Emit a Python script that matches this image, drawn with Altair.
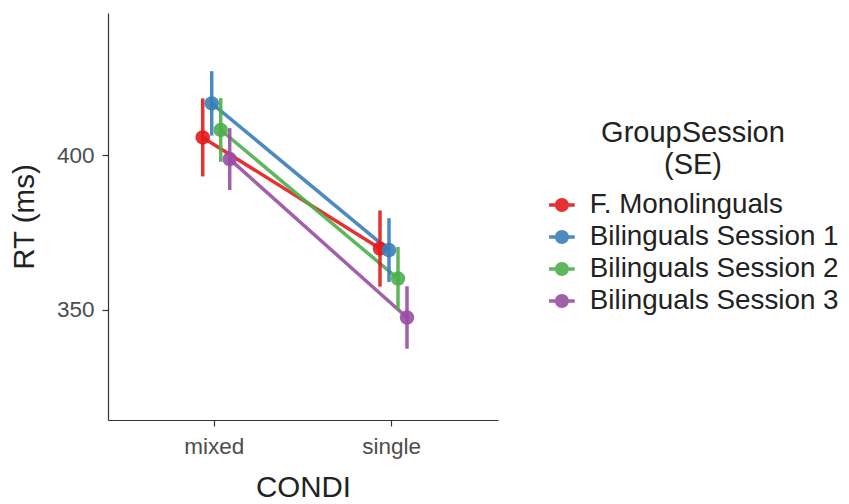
import altair as alt
import pandas as pd

conds = ["mixed", "single"]
groups = ["F. Monolinguals", "Bilinguals Session 1", "Bilinguals Session 2", "Bilinguals Session 3"]
colors = ["#E41A1C", "#377EB8", "#4DAF4A", "#984EA3"]
rt_mixed = [405.7, 416.7, 408.1, 398.7]
rt_single = [369.8, 369.3, 360.1, 347.5]
se_mixed = [12.6, 10.4, 10.3, 10.0]
se_single = [12.3, 10.3, 10.2, 10.1]

rows = []
for i, g in enumerate(groups):
    rows.append({"CONDI": "mixed", "Group": g, "RT": rt_mixed[i],
                 "lo": rt_mixed[i] - se_mixed[i], "hi": rt_mixed[i] + se_mixed[i]})
    rows.append({"CONDI": "single", "Group": g, "RT": rt_single[i],
                 "lo": rt_single[i] - se_single[i], "hi": rt_single[i] + se_single[i]})
df = pd.DataFrame(rows)

FONT = "Liberation Sans"

x = alt.X("CONDI:N", title="CONDI", sort=conds,
          scale=alt.Scale(paddingInner=0, paddingOuter=0.1),
          axis=alt.Axis(labelAngle=0, labelFontSize=22.5, labelColor="#4D4D4D",
                        titleFontSize=29.5, titleFontWeight="normal", titleColor="#222222",
                        tickColor="#333333", tickSize=6, tickWidth=1.2,
                        domainColor="#333333", domainWidth=1.2, labelPadding=9,
                        titlePadding=16, labelFont=FONT, titleFont=FONT))
xo = alt.XOffset("Group:N", sort=groups,
                 scale=alt.Scale(type="point", domain=groups, range=[77.0, 104.0], padding=0))
y_scale = alt.Scale(domain=[314.4, 445.9], nice=False, zero=False)
y = alt.Y("RT:Q", title="RT (ms)", scale=y_scale,
          axis=alt.Axis(values=[350, 400], grid=False, labelFontSize=22.5, labelColor="#4D4D4D",
                        titleFontSize=29.5, titleFontWeight="normal", titleColor="#222222",
                        tickColor="#333333", tickSize=6, tickWidth=1.2,
                        domainColor="#333333", domainWidth=1.2, labelPadding=8,
                        titlePadding=17, labelFont=FONT, titleFont=FONT))

legend_path = ("M-1.1,-0.15 L1.1,-0.15 L1.1,0.15 L-1.1,0.15 Z "
               "M0.6,0 A0.6,0.6 0 1,1 -0.6,0 A0.6,0.6 0 1,1 0.6,0 Z")

color = alt.Color("Group:N", sort=groups,
                  scale=alt.Scale(domain=groups, range=colors),
                  legend=alt.Legend(title=["GroupSession", "(SE)"], orient="none",
                                    legendX=440, legendY=106,
                                    symbolType=legend_path, symbolSize=544,
                                    symbolStrokeWidth=0, symbolOpacity=0.9,
                                    labelFontSize=27.8, labelFont=FONT, labelColor="#222222",
                                    labelLimit=0, titleLimit=0,
                                    titleFontSize=29, titleFont=FONT, titleFontWeight="normal",
                                    titleColor="#222222", titleAlign="center",
                                    titleAnchor="middle", titleLineHeight=32,
                                    titlePadding=11, rowPadding=3, labelOffset=14))

base = alt.Chart(df)
lines = base.mark_line(strokeWidth=3.5, opacity=0.9).encode(x=x, xOffset=xo, y=y, color=color,
                                                            detail="Group:N")
bars = base.mark_rule(strokeWidth=3.5, opacity=0.9).encode(
    x=x, xOffset=xo, y=alt.Y("lo:Q", scale=y_scale), y2="hi:Q", color=color)
points = base.mark_circle(size=210, opacity=0.9).encode(x=x, xOffset=xo, y=y, color=color)

chart = alt.layer(lines, bars, points).properties(
    width=390, height=407,
    autosize=alt.AutoSizeParams(type="none"),
    padding={"left": 100, "top": 5, "right": 343, "bottom": 88},
).configure(font=FONT).configure_view(stroke="transparent", strokeWidth=0)

chart.save("out.html", embed_options={"renderer": "svg", "actions": False})
